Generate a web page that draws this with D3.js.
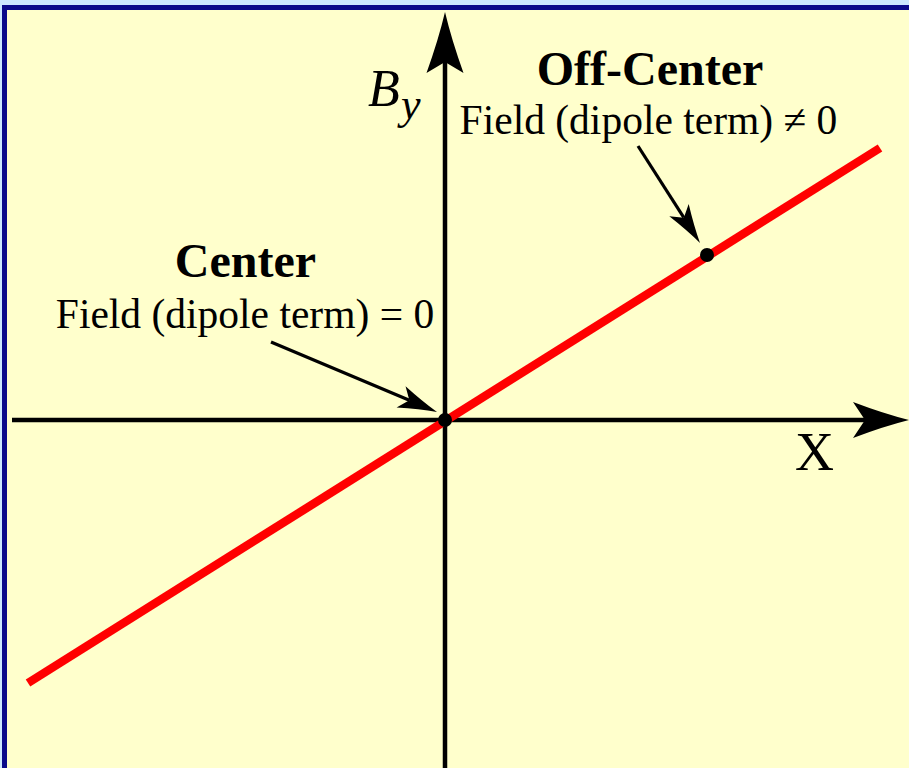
<!DOCTYPE html>
<html><head><meta charset="utf-8">
<script src="https://cdn.jsdelivr.net/npm/d3@7"></script>
<style>html,body{margin:0;padding:0;background:#CCE8FF;}svg{display:block;}</style>
</head><body>
<script>
// ---- data ----
const lineX = [-4.17, 4.35];          // red line end points (x)
const lineY = [-2.63, 2.72];          // red line end points (y)
const dotX = [0, 2.62];               // marked points
const dotY = [0, 1.65];
const titles = ["Center", "Off-Center"];
const subtitles = ["Field (dipole term) = 0", "Field (dipole term) \u2260 0"];
const axisLabelX = "X";
const axisLabelY = ["B", "y"];

const W = 909, H = 768;
const svg = d3.select("body").append("svg").attr("width", W).attr("height", H);

// background + frame
svg.append("rect").attr("x",0).attr("y",0).attr("width",W).attr("height",H).attr("fill","#CCE8FF");
svg.append("rect").attr("x",2).attr("y",5).attr("width",W).attr("height",H).attr("fill","#0A0A8A");
svg.append("rect").attr("x",7).attr("y",10).attr("width",W).attr("height",H).attr("fill","#FFFFCC");

const x = d3.scaleLinear().domain([-4.45, 4.64]).range([0, W]);
const y = d3.scaleLinear().domain([4.20, -3.48]).range([0, H]);

const x0 = x(0), y0 = y(0);

// axes lines
svg.append("line").attr("x1", 12).attr("x2", 866).attr("y1", y0).attr("y2", y0)
  .attr("stroke","#000").attr("stroke-width",4.5);
svg.append("line").attr("x1", x0).attr("x2", x0).attr("y1", H).attr("y2", 62)
  .attr("stroke","#000").attr("stroke-width",4.5);

// axis arrowheads (swept)
function sweptHead(tx, ty, ang, len, half, notch) {
  const c = Math.cos(ang), s = Math.sin(ang);
  const P = (a, b) => [tx + a*c - b*s, ty + a*s + b*c];
  const t = P(0,0), b1 = P(-len, -half), b2 = P(-len, half), n = P(-notch, 0);
  const q1 = P(-len*0.45, -half*0.35), q2 = P(-len*0.45, half*0.35);
  return `M${t}Q${q1} ${b1}L${n}L${b2}Q${q2} ${t}Z`;
}
svg.append("path").attr("d", sweptHead(909, y0, 0, 56, 18, 44)).attr("fill","#000");
svg.append("path").attr("d", sweptHead(x0, 12, -Math.PI/2, 61, 18.5, 50)).attr("fill","#000");

// red line
const line = d3.line().x(d => x(d[0])).y(d => y(d[1]));
svg.append("path").attr("d", line(d3.zip(lineX, lineY)))
  .attr("stroke","#FF0000").attr("stroke-width",8.5).attr("fill","none");

// dots
svg.selectAll("circle.dot").data(d3.zip(dotX, dotY)).join("circle")
  .attr("cx", d => x(d[0])).attr("cy", d => y(d[1])).attr("r", 7).attr("fill","#000");

// annotation arrows
function annArrow(sx, sy, tx, ty) {
  const ang = Math.atan2(ty - sy, tx - sx);
  const len = 39, half = 11.5, notch = 30;
  const c = Math.cos(ang), s = Math.sin(ang);
  svg.append("line").attr("x1", sx).attr("y1", sy)
    .attr("x2", tx - notch*c).attr("y2", ty - notch*s)
    .attr("stroke","#000").attr("stroke-width",3.2);
  svg.append("path").attr("d", sweptHead(tx, ty, ang, len, half, notch)).attr("fill","#000");
}
annArrow(271, 342, x(dotX[0]) - 8, y(dotY[0]) - 8);
annArrow(638, 146, x(dotX[1]) - 7, y(dotY[1]) - 12);

const serif = "'Liberation Serif','Times New Roman',serif";
// labels
svg.append("text").attr("x", 245.5).attr("y", 277).attr("text-anchor","middle")
  .attr("font-family", serif).attr("font-weight","bold").attr("font-size", 48).text(titles[0]);
svg.append("text").attr("x", 245).attr("y", 328).attr("text-anchor","middle")
  .attr("font-family", serif).attr("font-size", 41.5).text(subtitles[0]);
svg.append("text").attr("x", 650).attr("y", 85).attr("text-anchor","middle")
  .attr("font-family", serif).attr("font-weight","bold").attr("font-size", 48).text(titles[1]);
svg.append("text").attr("x", 648.5).attr("y", 134).attr("text-anchor","middle")
  .attr("font-family", serif).attr("font-size", 41.5).text(subtitles[1]);

// axis labels
svg.append("text").attr("x", 795).attr("y", 470)
  .attr("font-family", serif).attr("font-size", 54).text(axisLabelX);
svg.append("text").attr("x", 368).attr("y", 106).attr("font-family", serif)
  .attr("font-style","italic").attr("font-size", 52).text(axisLabelY[0]);
svg.append("text").attr("x", 401).attr("y", 119).attr("font-family", serif)
  .attr("font-style","italic").attr("font-size", 44).text(axisLabelY[1]);
</script>
</body></html>
